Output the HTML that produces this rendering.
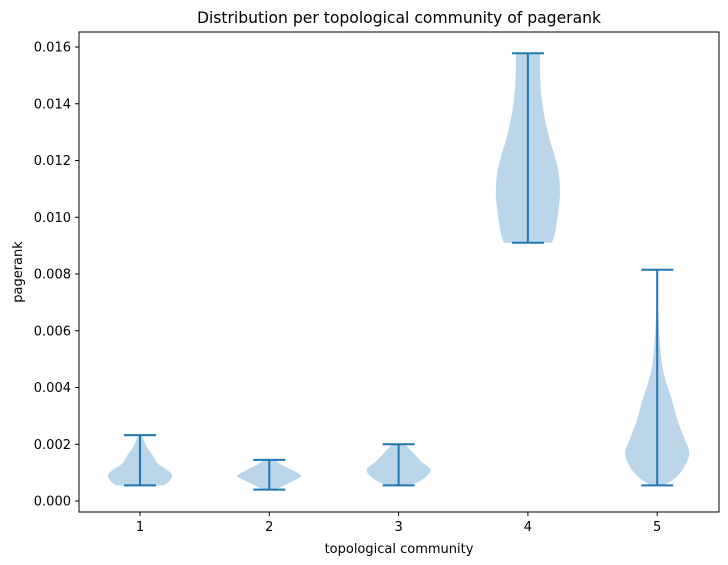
<!DOCTYPE html>
<html><head><meta charset="utf-8"><style>
body{margin:0;background:#fff;}
svg{display:block;font-family:"DejaVu Sans","Liberation Sans",sans-serif;}
</style></head><body>
<svg id="chart" width="728" height="565">
<text x="399" y="23" text-anchor="middle" font-size="15.6">Distribution per topological community of pagerank</text>
<text x="399" y="553" text-anchor="middle" font-size="13">topological community</text>
<text transform="translate(22,272) rotate(-90)" text-anchor="middle" font-size="13">pagerank</text>
<g id="plot"></g>
<rect x="79" y="32" width="640" height="480" fill="none" stroke="#000" stroke-width="1"/>
</svg>
<script>
const categories = ["1","2","3","4","5"];
const yTicks = [0,0.002,0.004,0.006,0.008,0.010,0.012,0.014,0.016];
const mins = [0.00055,0.0004,0.00055,0.0091,0.00055];
const maxs = [0.00232,0.00145,0.0020,0.01578,0.00815];
const prof1 = [[0.00055,0.75],[0.0007,0.92],[0.0009,1],[0.0011,0.85],[0.0013,0.58],[0.0016,0.4],[0.0019,0.22],[0.0022,0.1],[0.00232,0.08]];
const prof2 = [[0.0004,0.2],[0.0006,0.55],[0.0008,0.9],[0.0009,1],[0.0011,0.7],[0.0013,0.35],[0.00145,0.2]];
const prof3 = [[0.00055,0.4],[0.0008,0.8],[0.0011,1],[0.0014,0.7],[0.0017,0.45],[0.002,0.2]];
const prof4 = [[0.0091,0.75],[0.0095,0.86],[0.0105,0.98],[0.011,1],[0.0118,0.92],[0.013,0.62],[0.014,0.45],[0.015,0.38],[0.01578,0.38]];
const prof5 = [[0.00055,0.2],[0.0008,0.55],[0.0012,0.85],[0.0017,1],[0.0022,0.85],[0.0028,0.65],[0.0036,0.45],[0.0043,0.25],[0.005,0.13],[0.006,0.06],[0.007,0.02],[0.00815,0.005]];
const profiles = [prof1,prof2,prof3,prof4,prof5];

const NS="http://www.w3.org/2000/svg";
const plot=document.getElementById('plot');
function xs(i){return 140+i*129.3;}
function ys(v){return 501-v*28375;}
const halfMax=32, cap=16;
function mk(tag,attrs){const e=document.createElementNS(NS,tag);for(const k in attrs)e.setAttribute(k,attrs[k]);plot.appendChild(e);return e;}
function smooth(p){
  // Catmull-Rom interpolation of the profile for a smoother outline
  const out=[];
  for(let k=0;k<p.length-1;k++){
    const p0=p[Math.max(k-1,0)],p1=p[k],p2=p[k+1],p3=p[Math.min(k+2,p.length-1)];
    for(let s=0;s<8;s++){
      const t=s/8,t2=t*t,t3=t2*t;
      const f=(a,b,c,d)=>0.5*((2*b)+(-a+c)*t+(2*a-5*b+4*c-d)*t2+(-a+3*b-3*c+d)*t3);
      out.push([f(p0[0],p1[0],p2[0],p3[0]),Math.max(0,f(p0[1],p1[1],p2[1],p3[1]))]);
    }
  }
  out.push(p[p.length-1]);
  return out;
}

yTicks.forEach(t=>{
  const y=ys(t);
  const l=mk('line',{x1:75,x2:79,y1:y,y2:y,stroke:'#000'});
  
  
  const tx=mk('text',{x:71,y:y+4.5,'text-anchor':'end','font-size':'13'});
  tx.textContent=t.toFixed(3);
  
  
});
categories.forEach((c,i)=>{
  const x=xs(i);
  const l=mk('line',{x1:x,x2:x,y1:512,y2:516,stroke:'#000'});
  
  
  const tx=mk('text',{x:x,y:531,'text-anchor':'middle','font-size':'13'});
  tx.textContent=c;
  
  
  const p=smooth(profiles[i]);
  let right=p.map(([v,w])=>[x+w*halfMax,ys(v)]);
  let left=p.slice().reverse().map(([v,w])=>[x-w*halfMax,ys(v)]);
  const pts=right.concat(left);
  const body=mk('polygon',{points:pts.map(q=>q[0].toFixed(1)+','+q[1].toFixed(1)).join(' '),fill:'#1f77b4','fill-opacity':'0.3','stroke':'none'});
  
  
  const st=mk('line',{x1:x,x2:x,y1:ys(mins[i]),y2:ys(maxs[i]),stroke:'#1f77b4','stroke-width':2});
  
  
  [mins[i],maxs[i]].forEach((v,j)=>{
    const cl=mk('line',{x1:x-cap,x2:x+cap,y1:ys(v),y2:ys(v),stroke:'#1f77b4','stroke-width':2});
    
    
  });
});
</script>
</body></html>
